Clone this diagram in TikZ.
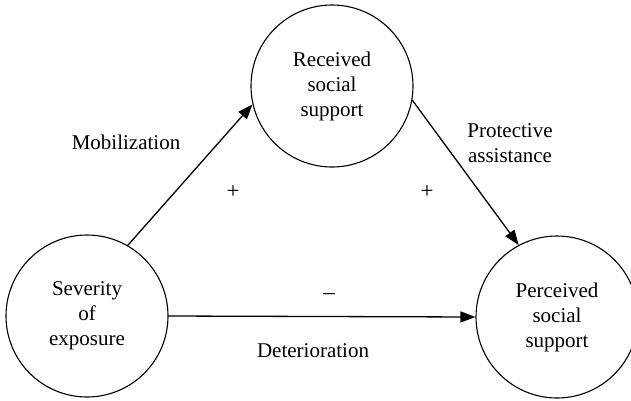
\documentclass[tikz,border=0pt]{standalone}
\usepackage{fontspec}
\setmainfont{Liberation Serif}
\usetikzlibrary{arrows.meta}
\begin{document}
\begin{tikzpicture}[x=1pt,y=-1pt,
  circ/.style={circle,draw,line width=1.1pt,minimum size=162pt,inner sep=0pt,align=center,
    font=\fontsize{21}{25}\selectfont},
  lbl/.style={font=\fontsize{21}{25}\selectfont,align=center,inner sep=0pt},
  sgn/.style={font=\fontsize{23}{26}\selectfont,inner sep=0pt},
  arr/.style={line width=1.3pt,-{Triangle[length=15pt,width=11pt]}}]
\useasboundingbox (0,0) rectangle (631,400);
\clip (0,0) rectangle (631,400);
\node[circ] (L) at (87,316) {Severity\\of\\exposure};
\node[circ] (T) at (332,86) {Received\\social\\support};
\node[circ] (R) at (557,317) {Perceived\\social\\support};
\draw[arr] (L.60) -- (T.193);
\draw[arr] (T.-10) -- (R.118);
\draw[arr] (L.0) -- (R.180);
\node[lbl] (mob) at (126,142) {Mobilization};
\node[lbl] (pro) at (510,143) {Protective\\assistance};
\node[lbl] (det) at (313,351) {Deterioration};
\node[sgn] (p1) at (233,192) {+};
\node[sgn] (p2) at (427,192) {+};
\node[sgn] (m1) at (329,297) {–};
\end{tikzpicture}
\end{document}
